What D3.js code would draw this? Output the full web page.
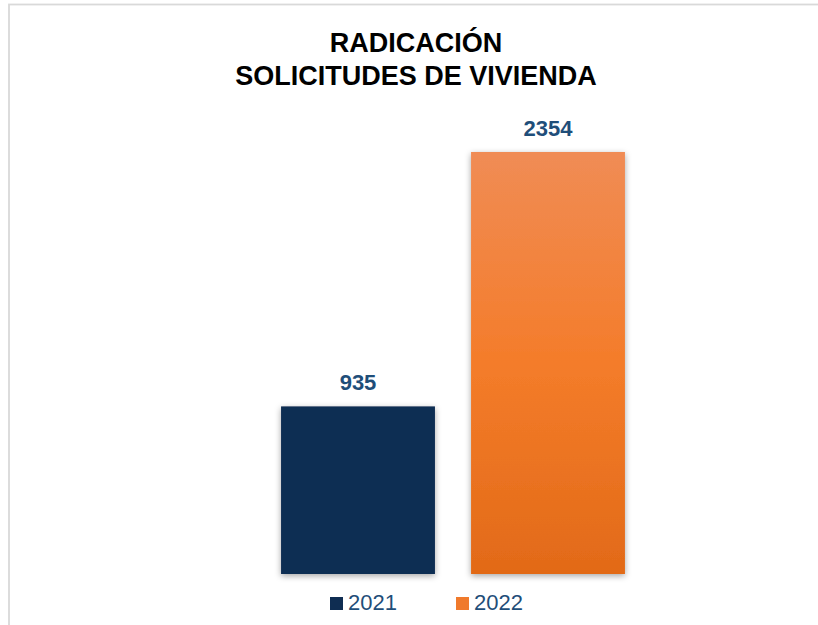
<!DOCTYPE html>
<html><head><meta charset="utf-8">
<script src="https://cdn.jsdelivr.net/npm/d3@7"></script>
<style>body{margin:0;background:#fff;}svg{display:block;font-family:"Liberation Sans",Arial,sans-serif;}</style>
</head><body>
<svg id="c" width="818" height="625"></svg>
<script>
const categories = ["2021", "2022"];
const values = [935, 2354];
const titleLines = ["RADICACIÓN", "SOLICITUDES DE VIVIENDA"];

const svg = d3.select("#c");
const defs = svg.append("defs");
const f = defs.append("filter").attr("id","sh").attr("x","-20%").attr("y","-20%").attr("width","140%").attr("height","140%");
f.append("feDropShadow").attr("dx",0).attr("dy",2).attr("stdDeviation",3).attr("flood-color","#000").attr("flood-opacity",0.35);
const g = defs.append("linearGradient").attr("id","og").attr("x1",0).attr("y1",0).attr("x2",0).attr("y2",1);
g.append("stop").attr("offset","0%").attr("stop-color","#F08C55");
g.append("stop").attr("offset","50%").attr("stop-color","#F47C2A");
g.append("stop").attr("offset","100%").attr("stop-color","#E26A18");

svg.append("rect").attr("x",9).attr("y",4.5).attr("width",900).attr("height",700)
  .attr("fill","#fff").attr("stroke","#d9d9d9").attr("stroke-width",1.8);

const x = d3.scaleBand().domain(categories).range([263,643]).paddingInner(0.19).paddingOuter(0.095);
const y = d3.scaleLinear().domain([0,2354]).range([574,152]);
const fills = ["#0F2D52","url(#og)"];
const legendFills = ["#0F2D52","#F07A2C"];

svg.selectAll("text.t").data(titleLines).enter().append("text")
  .attr("x",416).attr("y",(d,i)=>52+i*33).attr("text-anchor","middle")
  .attr("font-size",27).attr("font-weight","bold").attr("fill","#000").text(d=>d);

svg.selectAll("rect.bar").data(values).enter().append("rect")
  .attr("x",(d,i)=>x(categories[i])).attr("width",x.bandwidth())
  .attr("y",d=>y(d)).attr("height",d=>y(0)-y(d))
  .attr("fill",(d,i)=>fills[i]).attr("filter","url(#sh)");

svg.selectAll("text.lab").data(values).enter().append("text")
  .attr("x",(d,i)=>x(categories[i])+x.bandwidth()/2).attr("y",d=>y(d)-16.5)
  .attr("text-anchor","middle").attr("font-size",22).attr("font-weight","bold")
  .attr("fill","#1F4E79").text(d=>d);

const lx = [330,456];
categories.forEach((c,i)=>{
  svg.append("rect").attr("x",lx[i]).attr("y",597).attr("width",13).attr("height",13).attr("fill",legendFills[i]);
  svg.append("text").attr("x",lx[i]+18).attr("y",610).attr("font-size",22).attr("fill","#1F4E79").text(c);
});
</script>
</body></html>
